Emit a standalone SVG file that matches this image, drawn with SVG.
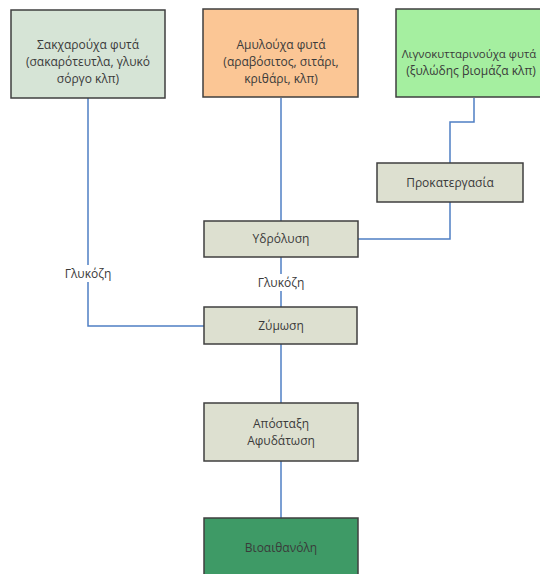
<svg xmlns="http://www.w3.org/2000/svg" width="540" height="574" viewBox="0 0 540 574">
<style>
.box{stroke:#3f3f3f;stroke-width:1.5}
.proc{fill:#dde0d0}
.t{font-family:"Open Sans","Liberation Sans",sans-serif;font-size:12px;fill:#3a3a3a;text-anchor:middle}
.c{fill:none;stroke:#4f7fc4;stroke-width:1.5}
</style>
<rect width="540" height="574" fill="#fff"/>
<g id="connectors">
<path class="c" d="M88 98 V326 H204"/>
<path class="c" d="M281 98 V221"/>
<path class="c" d="M474 98 V122 H450 V163"/>
<path class="c" d="M450 202 V239 H358"/>
<path class="c" d="M281 257 V307"/>
<path class="c" d="M281 344 V403"/>
<path class="c" d="M281 461 V518"/>
<rect x="62" y="265" width="52" height="17" fill="#fff"/>
<rect x="255" y="274" width="52" height="17" fill="#fff"/>
<text class="t" x="88" y="278">Γλυκόζη</text>
<text class="t" x="281" y="287">Γλυκόζη</text>
</g>
<g id="n1">
<rect class="box" x="11" y="10" width="154" height="88" fill="#d6e4d6"/>
<text class="t" x="88" y="49">Σακχαρούχα φυτά</text>
<text class="t" x="88" y="66">(σακαρότευτλα, γλυκό</text>
<text class="t" x="88" y="83">σόργο κλπ)</text>
</g>
<g id="n2">
<rect class="box" x="203" y="9" width="155" height="88" fill="#fbc695"/>
<text class="t" x="281" y="49">Αμυλούχα φυτά</text>
<text class="t" x="281" y="66">(αραβόσιτος, σιτάρι,</text>
<text class="t" x="281" y="83">κριθάρι, κλπ)</text>
</g>
<g id="n3">
<rect class="box" x="396" y="9" width="152" height="88" fill="#a5efa0"/>
<text class="t" x="469" y="58" style="font-size:11.4px">Λιγνοκυτταρινούχα φυτά</text>
<text class="t" x="471" y="75">(ξυλώδης βιομάζα κλπ)</text>
</g>
<g id="n4">
<rect class="box proc" x="377" y="163" width="146" height="39"/>
<text class="t" x="450" y="187">Προκατεργασία</text>
</g>
<g id="n5">
<rect class="box proc" x="204" y="221" width="154" height="36"/>
<text class="t" x="281" y="243">Υδρόλυση</text>
</g>
<g id="n6">
<rect class="box proc" x="204" y="307" width="153" height="37"/>
<text class="t" x="281" y="330">Ζύμωση</text>
</g>
<g id="n7">
<rect class="box proc" x="204" y="403" width="154" height="58"/>
<text class="t" x="281" y="428">Απόσταξη</text>
<text class="t" x="281" y="445">Αφυδάτωση</text>
</g>
<g id="n8">
<rect class="box" x="204" y="518" width="154" height="60" fill="#3e9a66"/>
<text class="t" x="281" y="552" fill="#1f2f25">Βιοαιθανόλη</text>
</g>
</svg>
